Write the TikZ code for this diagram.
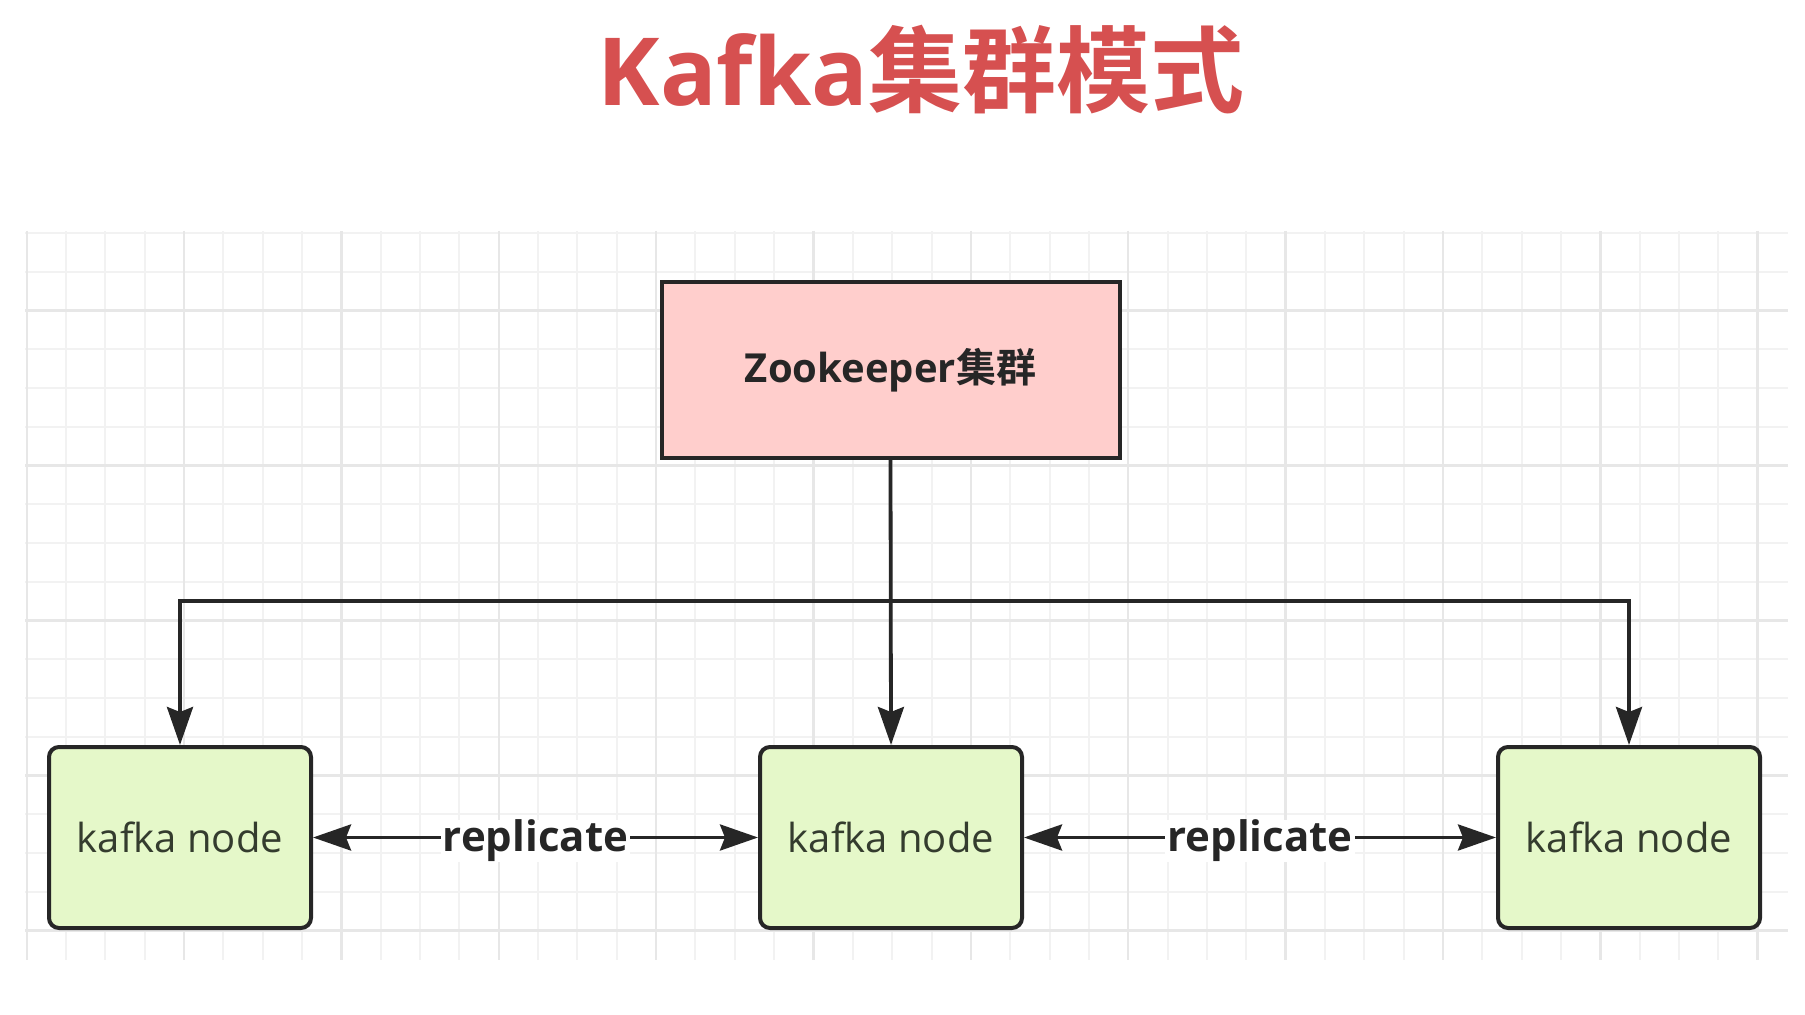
\documentclass[tikz,border=0pt]{standalone}
\usepackage{fontspec}
\setmainfont{Open Sans}
\newfontfamily\cjk{Noto Sans CJK SC}[BoldFont={* Bold}]
\usetikzlibrary{arrows.meta}
\definecolor{titlered}{RGB}{214,80,80}
\definecolor{zkpink}{RGB}{255,206,204}
\definecolor{kgreen}{RGB}{229,248,201}
\definecolor{edge}{RGB}{38,38,38}
\definecolor{gridminor}{RGB}{242,242,242}
\definecolor{gridmajor}{RGB}{231,231,231}
\begin{document}
\begin{tikzpicture}[x=0.5pt, y=-0.5pt,
    zkbox/.style={rectangle, draw=edge, fill=zkpink, line width=2pt, minimum width=229pt, minimum height=88pt, inner sep=0pt},
    kbox/.style={rectangle, rounded corners=5pt, draw=edge, fill=kgreen, line width=2pt, minimum width=131pt, minimum height=90.5pt, inner sep=0pt},
    link/.style={draw=edge, line width=1.9pt, -{Stealth[length=19pt, width=13pt, inset=2.5pt]}},
    repl/.style={fill=white, inner xsep=1pt, inner ysep=0pt, yshift=-1.5pt, text=edge, font=\fontsize{21}{25}\selectfont\bfseries}]
    \useasboundingbox (0,0) rectangle (1805,1015);

    % grid
    \begin{scope}
        \clip (25,231) rectangle (1788,960);
        \foreach \i in {0,...,44}
            \draw [gridminor, line width=1pt] (26.7+39.34*\i, 231) -- (26.7+39.34*\i, 960);
        \foreach \j in {0,...,18}
            \draw [gridminor, line width=1pt] (25, 233+38.75*\j) -- (1788, 233+38.75*\j);
        \foreach \i in {0,4,...,44}
            \draw [gridmajor, line width=1.2pt] (26.7+39.34*\i, 231) -- (26.7+39.34*\i, 960);
        \foreach \j in {2,6,...,18}
            \draw [gridmajor, line width=1.2pt] (25, 233+38.75*\j) -- (1788, 233+38.75*\j);
    \end{scope}

    \node [anchor=base, text=titlered, font=\fontsize{47}{56}\selectfont\bfseries] (title) at (921,106) {Kafka{\cjk 集群模式}};

    \node [zkbox, text=edge, font=\fontsize{20}{24}\selectfont\bfseries] (zk) at (890.5,370) {Zookeeper{\cjk 集群}};

    \begin{scope}[every node/.style={kbox, text={rgb,255:red,52;green,60;blue,46}, font=\fontsize{20}{24}\selectfont}]
        \node (k1) at (180,837.5) {kafka node};
        \node (k2) at (891,837.5) {kafka node};
        \node (k3) at (1629,837.5) {kafka node};
    \end{scope}

    \coordinate (split) at (891,601);

    \begin{scope}[link]
        \draw (zk.south) -- (k2.north);
        \draw (split) -| (k1.north);
        \draw (split) -| (k3.north);
    \end{scope}

    \begin{scope}[link, {Stealth[length=19pt, width=13pt, inset=2.5pt]}-{Stealth[length=19pt, width=13pt, inset=2.5pt]}]
        \draw (k1) -- node [repl] {replicate} (k2);
        \draw (k2) -- node [repl] {replicate} (k3);
    \end{scope}
\end{tikzpicture}
\end{document}
